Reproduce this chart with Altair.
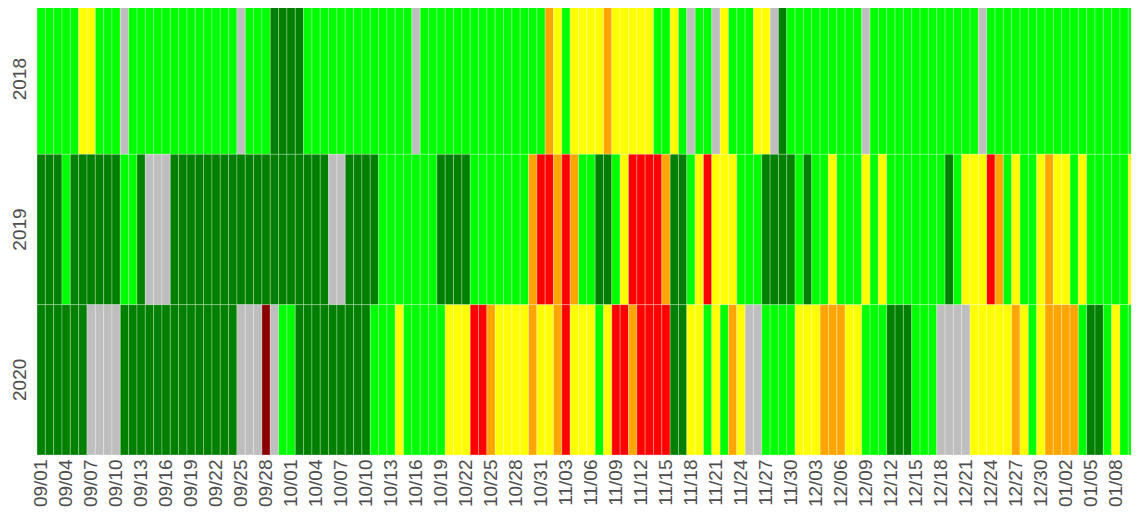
import altair as alt
import pandas as pd

# Categories (one cell per day, 09/01 .. 01/11)
dates = [d.strftime("%m/%d") for d in pd.date_range("2018-09-01", "2019-01-11")]
tick_labels = dates[::3]
years = ["2018", "2019", "2020"]

# Colour classes: G bright green, D dark green, Y yellow, O orange, R red, X dark red, N missing (gray)
classes = ["G", "D", "Y", "O", "R", "X", "N"]
class_colors = ["#00FF00", "#008000", "#FFFF00", "#FFA500", "#FF0000", "#8B0000", "#BEBEBE"]

row_2018 = """
G G G G G Y Y G G G
N G G G G G G G G G
G G G G N G G G D D
D D G G G G G G G G
G G G G G N G G G G
G G G G G G G G G G
G O Y G Y Y Y Y O Y
Y Y Y Y G G Y G N G
G N Y G G G Y Y N D
G G G G G G G G G N
G G G G G G G G G G
G G G N G G G G G G
G G G G G G G G G G
G G G
""".split()

row_2019 = """
D D D G D D D D D D
G G D N N N D D D D
D D D D D D D D D D
D D D D D N N D D D
D G G G G G G G D D
D D G G G G G G G O
R R O R O G G D D G
Y R R R R O D D G Y
R Y Y Y G G G D D D
D G D G G Y G G G Y
G Y G G G G G G G D
G Y Y Y R O G Y G G
Y O Y Y G Y G G G G
G Y Y
""".split()

row_2020 = """
D D D D D D N N N N
D D D D D D D D D D
D D D D N N N X N G
G D D D D D D D D D
G G G Y G G G G G Y
Y Y R R O Y Y Y Y O
Y Y O R Y Y Y G Y R
R O R R R R D D Y Y
G Y G O Y N N G G G
G Y Y Y O O O Y Y G
G G D D D G G G N N
N N Y Y Y Y Y O Y G
Y O O O O G D D G Y
G G N
""".split()

rows = {"2018": row_2018, "2019": row_2019, "2020": row_2020}
records = []
for yr, vals in rows.items():
    for d, c in zip(dates, vals):
        records.append({"year": yr, "date": d, "cls": c})
df = pd.DataFrame(records)

label_font = "Liberation Sans"
label_color = "#4D4D4D"

chart = alt.Chart(df).mark_rect(stroke="white", strokeWidth=0.35, strokeOpacity=0.8).encode(
    x=alt.X(
        "date:O",
        sort=dates,
        scale=alt.Scale(paddingInner=0, paddingOuter=0),
        axis=alt.Axis(
            values=tick_labels, title=None, labelAngle=-90, labelAlign="right",
            labelBaseline="middle", labelPadding=4, ticks=False, domain=False,
            labelFont=label_font, labelFontSize=19, labelColor=label_color,
            labelOverlap=False,
        ),
    ),
    y=alt.Y(
        "year:O",
        sort=years,
        scale=alt.Scale(paddingInner=0, paddingOuter=0),
        axis=alt.Axis(
            title=None, labelAngle=-90, labelAlign="center", labelBaseline="bottom",
            labelPadding=8, ticks=False, domain=False,
            labelFont=label_font, labelFontSize=19, labelColor=label_color,
        ),
    ),
    color=alt.Color("cls:N", scale=alt.Scale(domain=classes, range=class_colors), legend=None),
).properties(
    width=1108,
    height=451,
    autosize=alt.AutoSizeParams(type="none"),
    padding={"left": 29, "top": -4, "right": -14, "bottom": 53},
).configure_view(stroke=None)

chart.save("out.html", embed_options={"renderer": "svg", "actions": False})
